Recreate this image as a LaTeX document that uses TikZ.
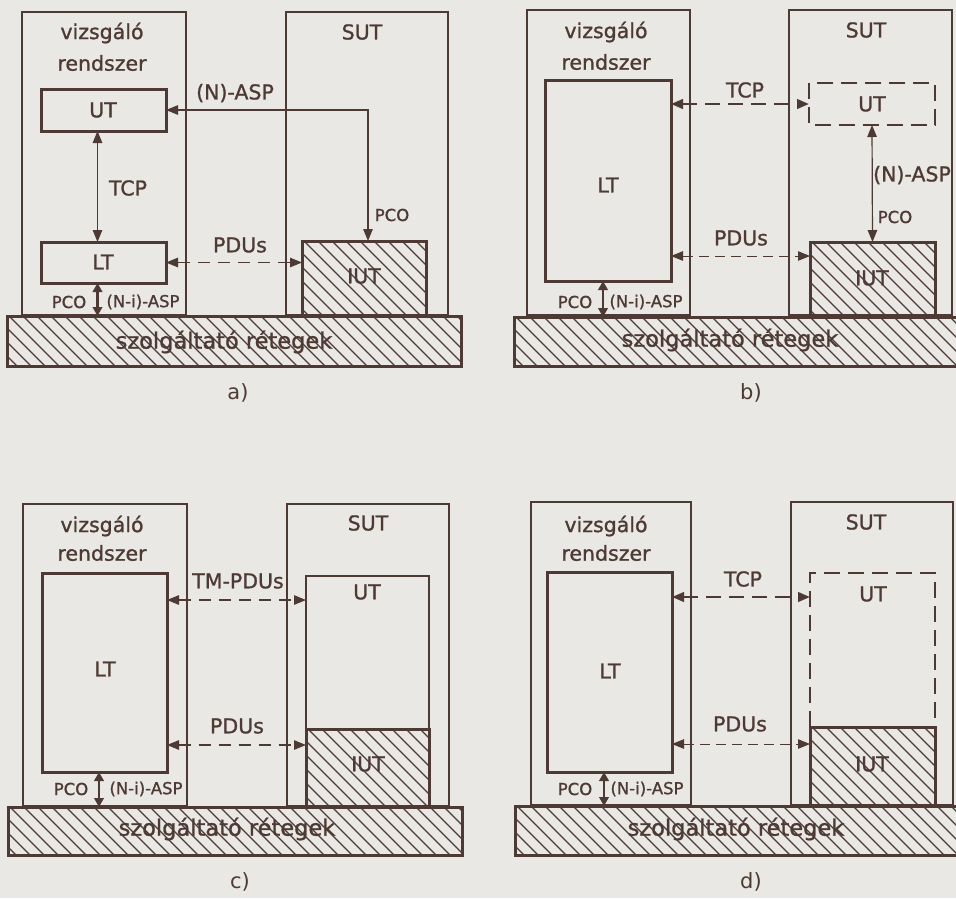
\documentclass[tikz,border=0pt]{standalone}
\usepackage{fontspec}
\setmainfont{DejaVu Sans}
\newfontfamily\labfont{DejaVu Sans}[FakeBold=1.1]
\usetikzlibrary{arrows.meta,fit}
\definecolor{bg}{RGB}{233,232,228}
\definecolor{ink}{RGB}{78,58,52}
\begin{document}
\begin{tikzpicture}[x=1pt,y=-1pt,
  outer/.style={draw=ink, line width=1.3pt, inner sep=0pt, outer sep=0pt},
  inbox/.style={draw=ink, line width=3pt, inner sep=0pt, outer sep=0pt},
  dbox/.style={inner sep=0pt, outer sep=0pt},
  hatch/.style={path picture={\foreach \k in {0,...,46} \draw[ink, line width=1.3pt] ([xshift=\k*14pt-110pt]path picture bounding box.north west) -- ++(170pt,-170pt);}},
  txt/.style={text=ink, inner sep=0pt, font=\labfont\fontsize{20.5}{22}\selectfont},
  sml/.style={text=ink, inner sep=0pt, font=\labfont\fontsize{16.5}{18}\selectfont},
  basetxt/.style={text=ink, inner sep=0pt, font=\labfont\fontsize{22.5}{24}\selectfont},
  captxt/.style={text=ink, inner sep=0pt, font=\fontsize{21}{22}\selectfont},
  arr/.style={draw=ink, line width=1.2pt, {Triangle[length=12pt,width=9.5pt]}-{Triangle[length=12pt,width=9.5pt]}},
  pdu/.style={arr, dash pattern=on 12pt off 8pt},
  pdut/.style={arr, line width=1pt, dash pattern=on 10pt off 6pt},
  tcpd/.style={arr, line width=2.6pt, dash pattern=on 15pt off 8pt},
  tcpbox/.style={draw=ink, line width=2.8pt, dash pattern=on 16pt off 8pt},
  pco/.style={draw=ink, line width=2.6pt, {Triangle[length=9pt,width=9.5pt]}-{Triangle[length=9pt,width=9.5pt]}}
]
\useasboundingbox (0,0) rectangle (956,898);
\fill[bg] (0,0) rectangle (956,898);
\clip (0,0) rectangle (956,898);

% ---------------- panel a ----------------
\node[outer, fit={(22,12)(186,315)}] (aTS) {};
\node[outer, fit={(286,12)(448,315)}] (aSUT) {};
\node[inbox, fit={(41,89)(166,131)}] (aUT) {};
\node[inbox, fit={(41,242)(166,283)}] (aLT) {};
\node[inbox, hatch, fit={(302,241)(426,315)}] (aIUT) {};
\node[inbox, hatch, fit={(7,316)(461,366)}] (aBase) {};
\node[txt] (aUTl) at (103,110) {UT};
\node[txt] (aLTl) at (103,262) {LT};
\node[txt] (aT1) at (102,33) {vizsgáló};
\node[txt] (aT2) at (102,63) {rendszer};
\node[txt] (aS) at (362,32) {SUT};
\node[txt] (aI) at (364,276) {IUT};
\node[basetxt] (aB) at (224,342) {szolgáltató rétegek};
\node[captxt] (aC) at (238,393) {a)};
\draw[arr] (aUT.east) -| ([xshift=4pt]aIUT.north);
\node[txt] (aNA) at (235,93) {(N)-ASP};
\node[sml] (aP1) at (392,215) {PCO};
\draw[arr] ([xshift=-6pt]aUT.south) -- ([xshift=-6pt]aLT.north);
\node[txt] (aTCP) at (128,188) {TCP};
\draw[pdu] (aLT.east) -- (aLT.east -| aIUT.west);
\node[txt] (aPD) at (240,245) {PDUs};
\draw[pco] ([xshift=-6pt]aLT.south) -- ([xshift=-6pt]aLT.south |- aBase.north);
\node[sml] (aP2) at (69,302) {PCO};
\node[sml] (aNi) at (143,302) {(N-i)-ASP};

% ---------------- panel b ----------------
\node[outer, fit={(527,10)(690,315)}] (bTS) {};
\node[outer, fit={(789,10)(952,315)}] (bSUT) {};
\node[inbox, fit={(545,80)(671,281)}] (bLT) {};
\node[dbox, fit={(809,83)(935,125)}] (bUT) {};
\draw[tcpbox] (bUT.north west) rectangle (bUT.south east);
\node[inbox, hatch, fit={(810,242)(935,315)}] (bIUT) {};
\node[inbox, hatch, fit={(514,317)(975,366)}] (bBase) {};
\node[txt] (bLTl) at (608,185) {LT};
\node[txt] (bUTl) at (872,104) {UT};
\node[txt] (bT1) at (606,32) {vizsgáló};
\node[txt] (bT2) at (606,62) {rendszer};
\node[txt] (bS) at (866,30) {SUT};
\node[txt] (bI) at (872,278) {IUT};
\node[basetxt] (bB) at (730,340) {szolgáltató rétegek};
\node[captxt] (bC) at (751,393) {b)};
\draw[tcpd] (bLT.east |- bUT.west) -- (bUT.west);
\node[txt] (bTCP) at (745,90) {TCP};
\draw[arr] (bUT.south) -- (bIUT.north);
\node[txt] (bNA) at (912,175) {(N)-ASP};
\node[sml] (bP1) at (895,217) {PCO};
\coordinate (bP) at (0,256);
\draw[pdut] (bLT.east |- bP) -- (bIUT.west |- bP);
\node[txt] (bPD) at (741,238) {PDUs};
\draw[pco] ([xshift=-5pt]bLT.south) -- ([xshift=-5pt]bLT.south |- bBase.north);
\node[sml] (bP2) at (575,302) {PCO};
\node[sml] (bNi) at (646,302) {(N-i)-ASP};

% ---------------- panel c ----------------
\node[outer, fit={(23,504)(187,806)}] (cTS) {};
\node[outer, fit={(287,504)(449,806)}] (cSUT) {};
\node[inbox, fit={(42,573)(167,772)}] (cLT) {};
\node[outer, fit={(306,576)(429,729)}] (cUT) {};
\node[inbox, hatch, fit={(306,729)(429,806)}] (cIUT) {};
\node[inbox, hatch, fit={(8,807)(462,855)}] (cBase) {};
\node[txt] (cLTl) at (105,669) {LT};
\node[txt] (cT1) at (102,526) {vizsgáló};
\node[txt] (cT2) at (102,553) {rendszer};
\node[txt] (cS) at (368,523) {SUT};
\node[txt] (cU) at (367,592) {UT};
\node[txt] (cI) at (368,764) {IUT};
\node[basetxt] (cB) at (227,829) {szolgáltató rétegek};
\node[captxt] (cC) at (240,882) {c)};
\coordinate (cA) at (0,600);
\draw[pdu] (cLT.east |- cA) -- (cUT.west |- cA);
\node[txt] (cTM) at (238,581) {TM-PDUs};
\coordinate (cB2) at (0,745);
\draw[pdu] (cLT.east |- cB2) -- (cIUT.west |- cB2);
\node[txt] (cPD) at (237,726) {PDUs};
\draw[pco] ([xshift=-5.5pt]cLT.south) -- ([xshift=-5.5pt]cLT.south |- cBase.north);
\node[sml] (cP2) at (71,789) {PCO};
\node[sml] (cNi) at (146,789) {(N-i)-ASP};

% ---------------- panel d ----------------
\node[outer, fit={(531,502)(691,805)}] (dTS) {};
\node[outer, fit={(791,502)(953,805)}] (dSUT) {};
\node[inbox, fit={(547,572)(672,772)}] (dLT) {};
\node[dbox, fit={(810,573)(935,727)}] (dUT) {};
\draw[tcpbox] (dUT.south west) -- (dUT.north west) -- (dUT.north east) -- (dUT.south east);
\node[inbox, hatch, fit={(810,727)(935,805)}] (dIUT) {};
\node[inbox, hatch, fit={(515,806)(975,855)}] (dBase) {};
\node[txt] (dLTl) at (610,671) {LT};
\node[txt] (dT1) at (606,526) {vizsgáló};
\node[txt] (dT2) at (606,553) {rendszer};
\node[txt] (dS) at (866,522) {SUT};
\node[txt] (dU) at (873,594) {UT};
\node[txt] (dI) at (872,764) {IUT};
\node[basetxt] (dB) at (736,829) {szolgáltató rétegek};
\node[captxt] (dC) at (751,882) {d)};
\coordinate (dA) at (0,597);
\draw[tcpd] (dLT.east |- dA) -- (dUT.west |- dA);
\node[txt] (dTCP) at (743,579) {TCP};
\coordinate (dB2) at (0,744);
\draw[pdut] (dLT.east |- dB2) -- (dIUT.west |- dB2);
\node[txt] (dPD) at (740,724) {PDUs};
\draw[pco] ([xshift=-5.5pt]dLT.south) -- ([xshift=-5.5pt]dLT.south |- dBase.north);
\node[sml] (dP2) at (575,789) {PCO};
\node[sml] (dNi) at (647,789) {(N-i)-ASP};
\end{tikzpicture}
\end{document}
